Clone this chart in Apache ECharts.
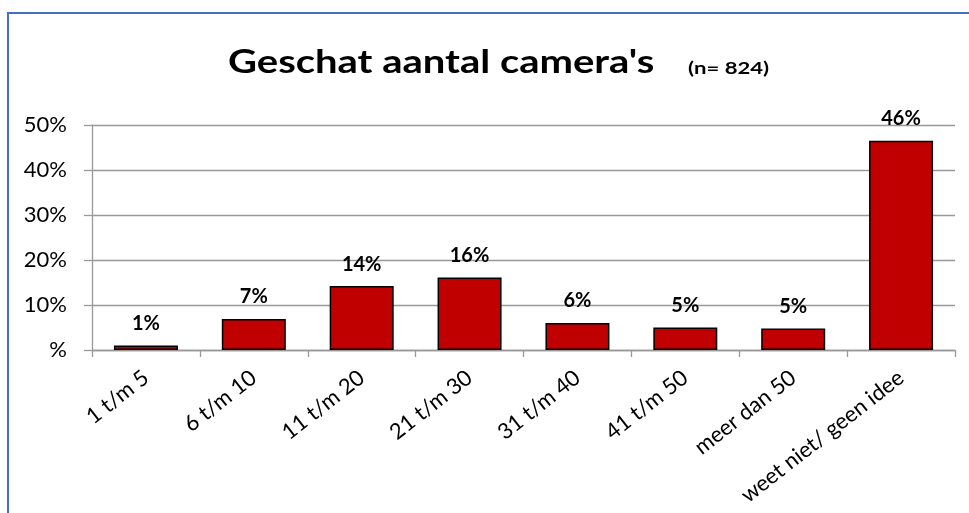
<!DOCTYPE html>
<html><head><meta charset="utf-8">
<script src="https://cdn.jsdelivr.net/npm/echarts@6/dist/echarts.min.js"></script>
<style>html,body{margin:0;padding:0;background:#fff}#c{width:969px;height:513px}</style>
</head><body><div id="c"></div>
<script>
const categories = ['1 t/m 5','6 t/m 10','11 t/m 20','21 t/m 30','31 t/m 40','41 t/m 50','meer dan 50','weet niet/ geen idee'];
const values = [1.0, 6.9, 14.2, 16.1, 6.0, 5.0, 4.8, 46.5];
const labels = ['1%','7%','14%','16%','6%','5%','5%','46%'];
const yTicks = ['%','10%','20%','30%','40%','50%'];
const FONT = 'Lato';
const chart = echarts.init(document.getElementById('c'));
chart.setOption({
  animation:false,
  backgroundColor:'#fff',
  graphic:[
    {type:'rect',shape:{x:8,y:13,width:1000,height:600},style:{fill:'none',stroke:'#4470c0',lineWidth:2},z:0},
    {type:'text',x:228,y:47,scaleX:1.25,style:{text:"Geschat aantal camera's",font:'bold 32px '+FONT,fill:'#000'}},
    {type:'text',x:688,y:60,scaleX:1.3,style:{text:'(n= 824)',font:'bold 17px '+FONT,fill:'#000'}}
  ],
  grid:{left:92,right:14,top:125,bottom:163},
  xAxis:{type:'category',data:categories,
    axisLine:{lineStyle:{color:'#999',width:1.3}},
    axisTick:{show:true,length:7,lineStyle:{color:'#999',width:1.3}},
    axisLabel:{rotate:38,margin:25,fontFamily:FONT,fontSize:22,color:'#000'}},
  yAxis:{type:'value',min:0,max:50,interval:10,
    axisLine:{show:true,lineStyle:{color:'#999',width:1.3}},
    axisTick:{show:true,length:8,lineStyle:{color:'#999',width:1.3}},
    splitLine:{lineStyle:{color:'#999',width:1.3}},
    axisLabel:{margin:25,fontFamily:FONT,fontSize:22,color:'#000',formatter:(v)=>yTicks[Math.round(v/10)]}},
  series:[{type:'bar',data:values,barWidth:64,
    itemStyle:{color:'#c00000',borderColor:'#000',borderWidth:1.5},
    label:{show:true,position:'top',distance:12,fontFamily:FONT,fontWeight:'bold',fontSize:20,color:'#000',
      formatter:(p)=>labels[p.dataIndex]}}]
});
</script></body></html>
